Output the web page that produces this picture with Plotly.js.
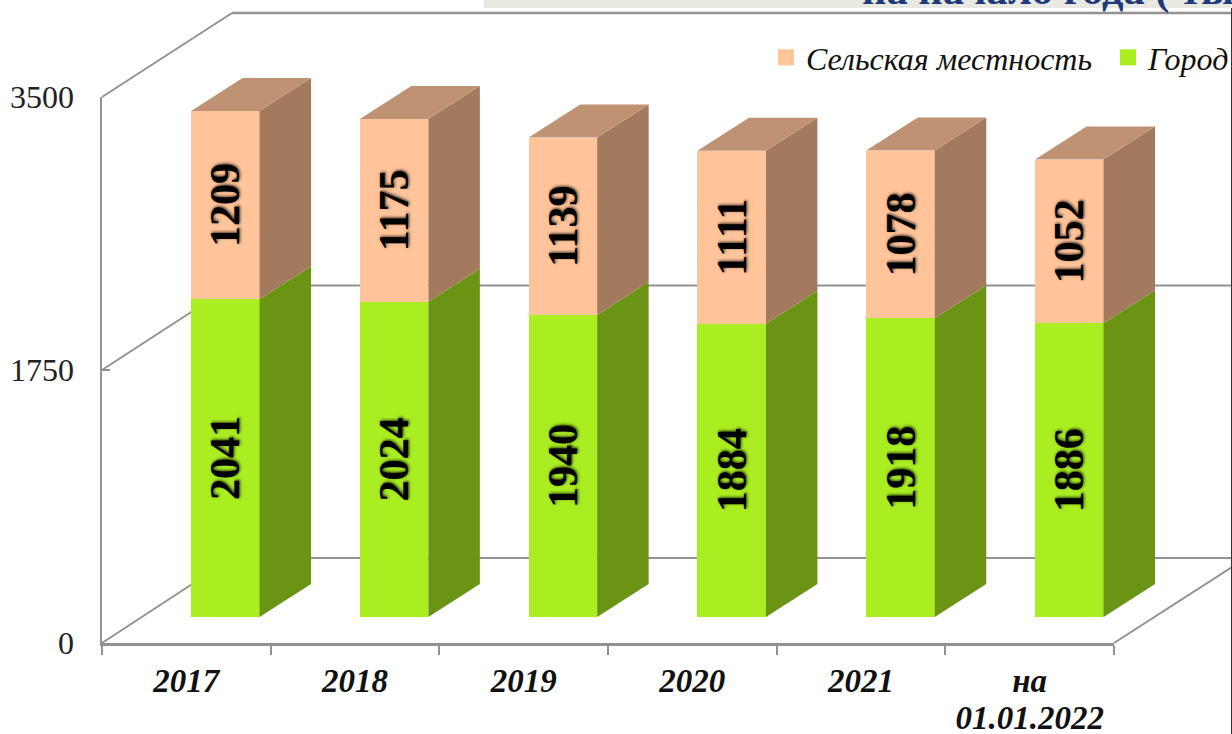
<!DOCTYPE html>
<html>
<head>
<meta charset="utf-8">
<script src="https://cdn.plot.ly/plotly-3.0.1.min.js"></script>
<style>html,body{margin:0;padding:0;background:#fff;overflow:hidden;width:1232px;height:734px}</style>
</head>
<body>
<div id="chart" style="width:1250px;height:734px"></div>
<script>
var categories = ['2017', '2018', '2019', '2020', '2021', 'на<br>01.01.2022'];
var cityValues = [2041, 2024, 1940, 1884, 1918, 1886];
var ruralValues = [1209, 1175, 1139, 1111, 1078, 1052];
var cityName = 'Город';
var ruralName = 'Сельская местность';
var axisLevels = [0, 1750, 3500];
var headingText = 'на начало года ( тыс. чел.)';

// The figure is slightly wider than the page so the last legend entry does not push a margin.
var W = 1250, H = 734, PAGE_W = 1232;
var SERIF = '"Liberation Serif", serif';
var GREY = '#929292';
var colors = {
  ruralFront: '#FFC499', ruralTop: '#BF9273', ruralSide: '#A47A5E',
  cityFront: '#AAEE22', citySide: '#6C9414'
};

// 3D projection geometry, in pixels of the page
var barX0 = 225.3, barStep = 168.8, barBase = 617, pxPerUnit = 0.1557;
var barWidth = 68.5 / barStep, depthX = 51.5 / barStep, depthY = 33 / pxPerUnit;
function xu(px) { return (px - barX0) / barStep; }
function yu(py) { return (barBase - py) / pxPerUnit; }
var positions = categories.map(function (_, i) { return i; });

function polygons(corners) {
  var xs = [], ys = [];
  positions.forEach(function (x, i) {
    corners(x, i).forEach(function (p) { xs.push(p[0]); ys.push(p[1]); });
    xs.push(null); ys.push(null);
  });
  return { x: xs, y: ys };
}
function face(poly, color) {
  return {
    type: 'scatter', mode: 'lines', x: poly.x, y: poly.y, xaxis: 'x2', yaxis: 'y2',
    fill: 'toself', fillcolor: color, line: { width: 0, color: color },
    hoverinfo: 'skip', showlegend: false
  };
}
var hw = barWidth / 2;
var citySide = polygons(function (x, i) {
  var t = cityValues[i];
  return [[x + hw, 0], [x + hw + depthX, depthY], [x + hw + depthX, t + depthY], [x + hw, t], [x + hw, 0]];
});
var ruralSide = polygons(function (x, i) {
  var b = cityValues[i], t = b + ruralValues[i];
  return [[x + hw, b], [x + hw + depthX, b + depthY], [x + hw + depthX, t + depthY], [x + hw, t], [x + hw, b]];
});
var ruralTop = polygons(function (x, i) {
  var t = cityValues[i] + ruralValues[i];
  return [[x - hw, t], [x + hw, t], [x + hw + depthX, t + depthY], [x - hw + depthX, t + depthY], [x - hw, t]];
});

function barTrace(name, values, color) {
  return {
    type: 'bar', name: name, x: positions, y: values, width: barWidth,
    xaxis: 'x2', yaxis: 'y2', showlegend: false,
    marker: { color: color, line: { width: 0 } },
    text: values.map(String), textposition: 'inside', insidetextanchor: 'middle',
    textangle: -90, constraintext: 'none',
    textfont: { family: SERIF, size: 42, color: '#000', weight: 'bold', shadow: '1px 1px 3px rgba(0,0,0,0.75)' },
    hoverinfo: 'y+name'
  };
}
function legendEntry(name, color, legendId) {
  return {
    type: 'scatter', mode: 'markers', name: name, x: [null], y: [null], xaxis: 'x2', yaxis: 'y2',
    legend: legendId,
    marker: { symbol: 'square', size: 16, color: color }, showlegend: true, hoverinfo: 'skip'
  };
}

var axisAnchor = {
  type: 'scatter', mode: 'lines', x: categories, y: cityValues, opacity: 0,
  xaxis: 'x', yaxis: 'y', showlegend: false, hoverinfo: 'skip'
};

var data = [
  axisAnchor,
  barTrace(cityName, cityValues, colors.cityFront),
  barTrace(ruralName, ruralValues, colors.ruralFront),
  face(citySide, colors.citySide),
  face(ruralSide, colors.ruralSide),
  face(ruralTop, colors.ruralTop),
  legendEntry(ruralName, colors.ruralFront, 'legend'),
  legendEntry(cityName, colors.cityFront, 'legend2')
];

function frontY(v) { return 643 - v * 546 / 3500; }
function backY(v) { return 558 - v * 545 / 3500; }
var wallLine = { color: GREY, width: 2 };
var shapes = [];
axisLevels.forEach(function (v) {
  shapes.push({ type: 'line', xref: 'x2', yref: 'y2', layer: 'below', line: wallLine,
    x0: xu(102), y0: yu(frontY(v)), x1: xu(232), y1: yu(backY(v)) });
  shapes.push({ type: 'line', xref: 'x2', yref: 'y2', layer: 'below',
    line: { color: GREY, width: v === 3500 ? 2.6 : 2 },
    x0: xu(232), y0: yu(backY(v)), x1: xu(PAGE_W), y1: yu(backY(v)) });
});
shapes.push({ type: 'line', xref: 'x2', yref: 'y2', layer: 'below', line: wallLine,
  x0: xu(1114), y0: yu(643), x1: xu(PAGE_W), y1: yu(567) });
shapes.push({ type: 'rect', xref: 'paper', yref: 'paper', layer: 'below', line: { width: 0 },
  fillcolor: '#E8E9E0', x0: 484 / W, x1: 1, y0: 1 - 8 / H, y1: 1 });
shapes.push({ type: 'line', xref: 'paper', yref: 'paper', line: { color: '#333', width: 1 },
  x0: 1231.5 / W, x1: 1231.5 / W, y0: 0, y1: 1 - 8 / H });

function legendBox(leftPx) {
  return {
    orientation: 'v', x: leftPx / W, xanchor: 'left', y: 1 - 30 / H, yanchor: 'top',
    bgcolor: 'rgba(0,0,0,0)', itemsizing: 'trace',
    font: { family: SERIF, size: 32, color: '#111', style: 'italic' }
  };
}

var layout = {
  width: W, height: H,
  margin: { l: 0, r: 0, t: 0, b: 0, pad: 0 },
  paper_bgcolor: '#fff', plot_bgcolor: 'rgba(0,0,0,0)',
  barmode: 'stack', showlegend: true, hovermode: false,
  xaxis: {
    domain: [102 / W, 1114 / W], anchor: 'y', type: 'category', categoryorder: 'array', categoryarray: categories,
    range: [-0.5, 5.5],
    tickson: 'boundaries', ticks: 'outside', ticklen: 9, tickwidth: 2, tickcolor: GREY,
    showline: true, linecolor: GREY, linewidth: 2.5, showgrid: false, zeroline: false,
    ticklabelstandoff: 13, tickangle: 0,
    ticktext: categories.map(function (c) { return '<span style="font-size:33px">' + c.replace('<br>', '</span><br><span style="font-size:33px">') + '</span>'; }),
    tickvals: categories, tickmode: 'array',
    tickfont: { family: SERIF, size: 28, color: '#111', weight: 'bold', style: 'italic' }
  },
  yaxis: {
    domain: [(H - 643) / H, (H - 97) / H], anchor: 'x', range: [0, 3500],
    tickmode: 'array', tickvals: axisLevels, ticktext: axisLevels.map(String),
    ticks: 'inside', ticklen: 8, tickwidth: 2, tickcolor: GREY,
    showline: true, linecolor: GREY, linewidth: 2.5, showgrid: false, zeroline: false,
    ticklabelstandoff: 19,
    tickfont: { family: SERIF, size: 32, color: '#222' }
  },
  xaxis2: { domain: [0, 1], anchor: 'y2', range: [xu(0), xu(W)], visible: false, fixedrange: true },
  yaxis2: { domain: [0, 1], anchor: 'x2', range: [yu(H), yu(0)], visible: false, fixedrange: true },
  legend: legendBox(766),
  legend2: legendBox(1108),
  annotations: [{
    xref: 'paper', yref: 'paper', x: 860 / W, y: 1 - 5 / H, xanchor: 'left', yanchor: 'bottom',
    yshift: -11, showarrow: false, align: 'left', text: headingText,
    font: { family: SERIF, size: 42.5, color: '#1F3A7A', weight: 'bold' }
  }],
  shapes: shapes
};

Plotly.newPlot('chart', data, layout, { displayModeBar: false, staticPlot: true });
</script>
</body>
</html>
